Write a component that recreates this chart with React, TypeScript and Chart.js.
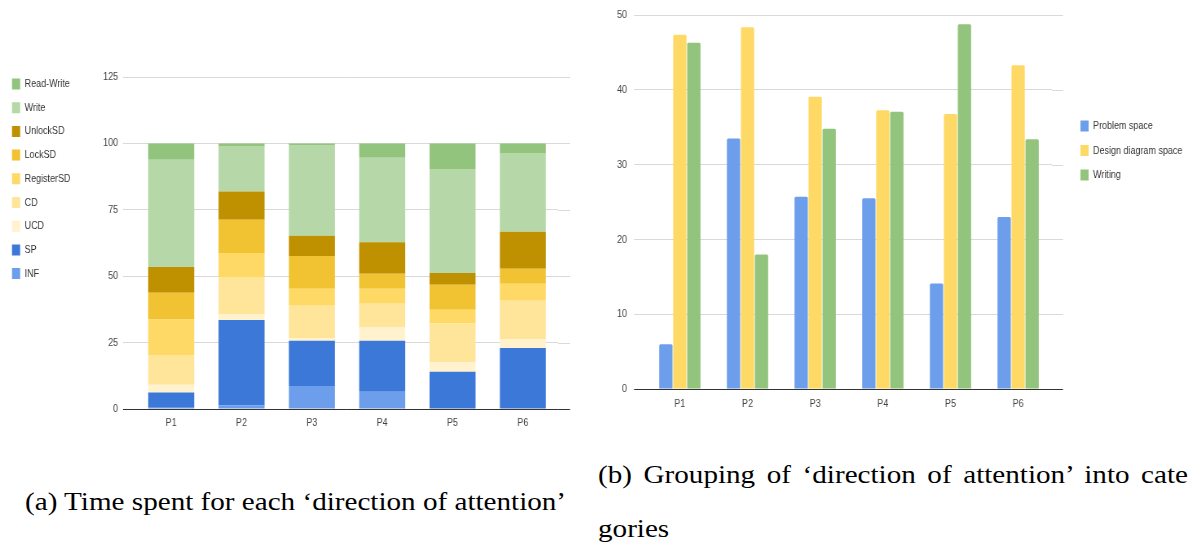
import React, { useEffect, useRef } from 'react';
import { Chart, registerables } from 'chart.js';

Chart.register(...registerables);

// ---------- Data: chart (a) ----------
const participants = ['P1', 'P2', 'P3', 'P4', 'P5', 'P6'];
const infValues = [0.5, 1.4, 8.7, 6.5, 0, 0];
const spValues = [5.7, 32.1, 17.0, 19.2, 14.0, 23.0];
const ucdValues = [2.9, 2.3, 1.0, 5.0, 3.6, 3.3];
const cdValues = [11.2, 13.9, 12.2, 8.9, 14.6, 14.5];
const registerSdValues = [13.4, 9.0, 6.4, 5.7, 5.2, 6.4];
const lockSdValues = [10.1, 12.6, 12.3, 5.6, 9.4, 5.6];
const unlockSdValues = [9.7, 10.6, 7.6, 11.9, 4.4, 13.9];
const writeValues = [40.3, 17.1, 34.2, 31.8, 39.2, 29.7];
const readWriteValues = [6.2, 1.0, 0.6, 5.4, 9.6, 3.6];
const leftTickStep = 25;
const leftMax = 125;

// ---------- Data: chart (b) ----------
const problemSpaceValues = [6.0, 33.5, 25.7, 25.5, 14.1, 23.0];
const designDiagramValues = [47.4, 48.4, 39.1, 37.3, 36.8, 43.3];
const writingValues = [46.3, 18.0, 34.8, 37.1, 48.8, 33.4];
const rightTickStep = 10;
const rightMax = 50;

const captionA = '(a) Time spent for each \u2018direction of attention\u2019';
const captionB1 = '(b) Grouping of \u2018direction of attention\u2019 into cate';
const captionB2 = 'gories';

// horizontal squeeze of the chart pictures (narrow chart text)
const SQ = 0.815;
const CAP = 1.165; // horizontal stretch of the captions

const FONT = "'Liberation Sans', Arial, sans-serif";
const gridColor = (c: any) => (c.tick && c.tick.value === 0 ? '#333333' : '#d9d9d9');

// extends the horizontal grid lines a little to the right of the plot area
const rightGridExtension = {
  id: 'rightGridExtension',
  beforeDatasetsDraw(chart: any, _args: any, opts: any) {
    const y = chart.scales.y;
    const { ctx, chartArea } = chart;
    ctx.save();
    ctx.lineWidth = 1;
    y.ticks.forEach((t: any) => {
      const py = Math.round(y.getPixelForValue(t.value)) + 0.5;
      ctx.strokeStyle = t.value === 0 ? '#333333' : '#d9d9d9';
      ctx.beginPath();
      ctx.moveTo(chartArea.right, py);
      ctx.lineTo(chartArea.right + (opts.length || 0), py);
      ctx.stroke();
    });
    ctx.restore();
  },
};

// geometry (canvas-internal units)
const L_W = 712, L_H = 380;
const L_PADL = 2;
const L_CHART_LEFT = 166.9;
const L_EXT = 14.7;
const L_PADR = 12.6;

const R_W = 752, R_H = 420;
const R_CHART_LEFT = 81.0;
const R_CHART_RIGHT = 579.1;
const R_EXT = 13.5;
const R_PADR = 3;

export default function App() {
  const leftRef = useRef<HTMLCanvasElement>(null);
  const rightRef = useRef<HTMLCanvasElement>(null);

  useEffect(() => {
    const left = new Chart(leftRef.current as HTMLCanvasElement, {
      type: 'bar',
      plugins: [rightGridExtension],
      data: {
        labels: participants,
        datasets: [
          { label: 'INF', data: infValues, backgroundColor: '#6d9eeb' },
          { label: 'SP', data: spValues, backgroundColor: '#3c78d8' },
          { label: 'UCD', data: ucdValues, backgroundColor: '#fff2cc' },
          { label: 'CD', data: cdValues, backgroundColor: '#ffe599' },
          { label: 'RegisterSD', data: registerSdValues, backgroundColor: '#ffd966' },
          { label: 'LockSD', data: lockSdValues, backgroundColor: '#f1c232' },
          { label: 'UnlockSD', data: unlockSdValues, backgroundColor: '#bf9000' },
          { label: 'Write', data: writeValues, backgroundColor: '#b6d7a8' },
          { label: 'Read-Write', data: readWriteValues, backgroundColor: '#93c47d' },
        ].map((d) => ({ ...d, borderWidth: 0, barPercentage: 0.654, categoryPercentage: 1 })),
      },
      options: {
        animation: false,
        responsive: false,
        layout: { padding: { top: 0, left: L_PADL, right: L_PADR, bottom: 1 } },
        plugins: {
          tooltip: { enabled: false },
          rightGridExtension: { length: L_EXT },
          title: { display: true, text: ' ', font: { size: 10 }, padding: { top: 5, bottom: 0 } },
          legend: {
            position: 'left',
            align: 'start',
            reverse: true,
            title: { display: true, text: ' ', font: { size: 4 }, padding: { top: 1, bottom: 0 } },
            labels: {
              boxWidth: 10,
              boxHeight: 11,
              padding: 12.7,
              color: '#333333',
              font: { family: FONT, size: 11 },
            },
          },
        },
        scales: {
          x: {
            stacked: true,
            grid: { display: false, drawTicks: false },
            border: { display: false },
            ticks: { color: '#444444', font: { family: FONT, size: 11 }, padding: 7 },
            afterFit: (s: any) => { s.height = 30; },
          },
          y: {
            stacked: true,
            min: 0,
            max: leftMax,
            ticks: { stepSize: leftTickStep, color: '#444444', font: { family: FONT, size: 11 }, padding: 6 },
            grid: { color: gridColor, drawTicks: true, tickLength: 16 },
            border: { display: false },
            afterFit: (s: any) => {
              const lw = s.chart.legend ? s.chart.legend.width : 93;
              s.width = L_CHART_LEFT - L_PADL - lw;
            },
          },
          y2: {
            display: false,
            position: 'right',
            min: 0,
            max: leftMax,
            afterFit: (s: any) => { s.width = L_EXT; },
          },
        },
      },
    } as any);

    const right = new Chart(rightRef.current as HTMLCanvasElement, {
      type: 'bar',
      plugins: [rightGridExtension],
      data: {
        labels: participants,
        datasets: [
          { label: 'Problem space', data: problemSpaceValues, backgroundColor: '#6d9eeb' },
          { label: 'Design diagram space', data: designDiagramValues, backgroundColor: '#ffd966' },
          { label: 'Writing', data: writingValues, backgroundColor: '#93c47d' },
        ].map((d) => ({ ...d, borderWidth: 0, barPercentage: 0.95, categoryPercentage: 0.62, borderRadius: 1.5 })),
      },
      options: {
        animation: false,
        responsive: false,
        layout: { padding: { top: 14, left: 0, right: R_PADR, bottom: 1 } },
        plugins: {
          tooltip: { enabled: false },
          rightGridExtension: { length: R_EXT },
          legend: {
            position: 'right',
            align: 'start',
            title: { display: true, text: ' ', font: { size: 10 }, padding: { top: 81, bottom: 0 } },
            labels: {
              boxWidth: 10,
              boxHeight: 11,
              padding: 13.5,
              color: '#333333',
              font: { family: FONT, size: 11 },
            },
          },
        },
        scales: {
          x: {
            grid: { display: false, drawTicks: false },
            border: { display: false },
            ticks: { color: '#444444', font: { family: FONT, size: 11 }, padding: 8 },
            afterFit: (s: any) => { s.height = 30; },
          },
          y: {
            min: 0,
            max: rightMax,
            ticks: { stepSize: rightTickStep, color: '#444444', font: { family: FONT, size: 11 }, padding: 8.6 },
            grid: { color: gridColor, drawTicks: true, tickLength: 14.7 },
            border: { display: false },
            afterFit: (s: any) => { s.width = R_CHART_LEFT; },
          },
          y2: {
            display: false,
            position: 'right',
            min: 0,
            max: rightMax,
            afterFit: (s: any) => {
              const lw = s.chart.legend ? s.chart.legend.width : 146;
              s.width = Math.max(0, R_W - R_PADR - lw - R_CHART_RIGHT);
            },
          },
        },
      },
    } as any);

    return () => {
      left.destroy();
      right.destroy();
    };
  }, []);

  const serif: React.CSSProperties = {
    position: 'absolute',
    fontFamily: "'Liberation Serif', 'Times New Roman', serif",
    fontSize: 25,
    lineHeight: '25px',
    color: '#000',
    whiteSpace: 'nowrap',
    transform: `scaleX(${CAP})`,
    transformOrigin: '0 0',
  };

  const squeeze: React.CSSProperties = {
    position: 'absolute',
    transform: `scaleX(${SQ})`,
    transformOrigin: '0 0',
  };

  return (
    <div style={{ position: 'absolute', left: 0, top: 0, width: 1193, height: 550, background: '#fff', overflow: 'hidden' }}>
      <div style={{ ...squeeze, left: 0, top: 60, width: L_W, height: L_H }}>
        <canvas ref={leftRef} width={L_W} height={L_H} style={{ display: 'block', width: L_W, height: L_H }} />
      </div>
      <div style={{ ...squeeze, left: 580, top: 0, width: R_W, height: R_H }}>
        <canvas ref={rightRef} width={R_W} height={R_H} style={{ display: 'block', width: R_W, height: R_H }} />
      </div>
      <div style={{ ...serif, left: 25, top: 489 }}>{captionA}</div>
      <div style={{ ...serif, left: 598, top: 462, width: 590 / CAP, textAlign: 'justify', textAlignLast: 'justify' as any, whiteSpace: 'normal' }}>{captionB1}</div>
      <div style={{ ...serif, left: 598, top: 516 }}>{captionB2}</div>
    </div>
  );
}
